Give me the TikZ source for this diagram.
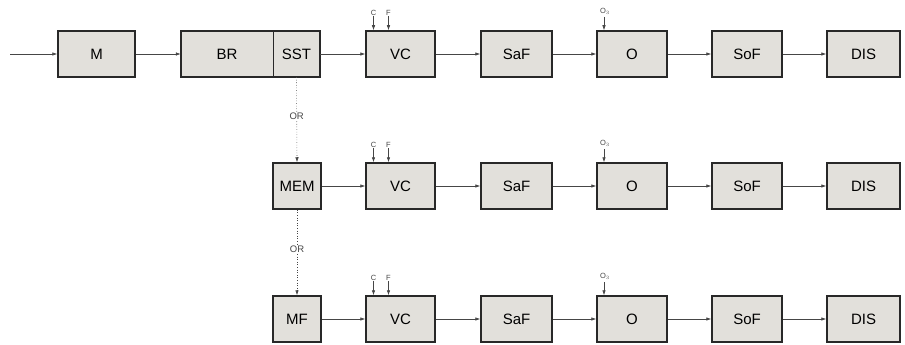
\documentclass[tikz,border=0pt]{standalone}
\usepackage{fontspec}
\setmainfont{Liberation Sans}
\usetikzlibrary{arrows.meta}
\definecolor{boxfill}{RGB}{226,224,219}
\definecolor{boxline}{RGB}{40,40,40}
\definecolor{conline}{RGB}{70,70,70}
\begin{document}
\begin{tikzpicture}[x=1pt,y=-1pt,
  blk/.style={draw=boxline,line width=1.5pt,fill=boxfill,minimum height=46pt,inner sep=0pt,font=\fontsize{15}{17}\selectfont},
  half/.style={fill=boxfill,minimum height=46pt,inner sep=0pt,font=\fontsize{15}{17}\selectfont},
  con/.style={draw=conline,line width=0.6pt,-{Latex[length=5pt,width=3.5pt]}},
  orcon/.style={draw=conline,line width=0.6pt,dotted,-{Latex[length=5pt,width=3.5pt]}},
  lab/.style={font=\fontsize{7.5}{8}\selectfont,text=conline,inner sep=0.5pt},
  orlab/.style={font=\fontsize{9.5}{10}\selectfont,text=conline,fill=white,inner sep=1pt}]
\useasboundingbox (0,0) rectangle (905,345);
% row 1
\coordinate (in) at (10,54);
\node[blk,minimum width=77pt] (M) at (96.5,54) {M};
\node[half,minimum width=92pt] (BR) at (227,54) {BR};
\node[half,minimum width=47pt] (SST) at (296.5,54) {SST};
\draw[boxline,line width=1.5pt] (BR.north west) rectangle (SST.south east);
\draw[boxline,line width=0.5pt] (BR.north east) -- (BR.south east);
\node[blk,minimum width=69pt] (VCa) at (400.5,54) {VC};
\node[blk,minimum width=71pt] (SaFa) at (516.5,54) {SaF};
\node[blk,minimum width=70pt] (Oa) at (632,54) {O};
\node[blk,minimum width=70pt] (SoFa) at (747,54) {SoF};
\node[blk,minimum width=73pt] (DISa) at (863.5,54) {DIS};
% row 2
\node[blk,minimum width=48pt] (MEM) at (297,186) {MEM};
\node[blk,minimum width=69pt] (VCb) at (400.5,186) {VC};
\node[blk,minimum width=71pt] (SaFb) at (516.5,186) {SaF};
\node[blk,minimum width=70pt] (Ob) at (632,186) {O};
\node[blk,minimum width=70pt] (SoFb) at (747,186) {SoF};
\node[blk,minimum width=73pt] (DISb) at (863.5,186) {DIS};
% row 3
\node[blk,minimum width=48pt] (MF) at (297,319) {MF};
\node[blk,minimum width=69pt] (VCc) at (400.5,319) {VC};
\node[blk,minimum width=71pt] (SaFc) at (516.5,319) {SaF};
\node[blk,minimum width=70pt] (Oc) at (632,319) {O};
\node[blk,minimum width=70pt] (SoFc) at (747,319) {SoF};
\node[blk,minimum width=73pt] (DISc) at (863.5,319) {DIS};
% connectors row 1
\draw[con] (in) -- (M.west);
\draw[con] (M.east) -- (BR.west);
\draw[con] (SST.east) -- (VCa.west);
\draw[con] (VCa.east) -- (SaFa.west);
\draw[con] (SaFa.east) -- (Oa.west);
\draw[con] (Oa.east) -- (SoFa.west);
\draw[con] (SoFa.east) -- (DISa.west);
% row 2
\draw[con] (MEM.east) -- (VCb.west);
\draw[con] (VCb.east) -- (SaFb.west);
\draw[con] (SaFb.east) -- (Ob.west);
\draw[con] (Ob.east) -- (SoFb.west);
\draw[con] (SoFb.east) -- (DISb.west);
% row 3
\draw[con] (MF.east) -- (VCc.west);
\draw[con] (VCc.east) -- (SaFc.west);
\draw[con] (SaFc.east) -- (Oc.west);
\draw[con] (Oc.east) -- (SoFc.west);
\draw[con] (SoFc.east) -- (DISc.west);
% OR connectors
\draw[orcon] (SST.south) -- node[orlab,pos=0.46] {OR} (MEM.north);
\draw[orcon] (MEM.south) -- node[orlab,pos=0.46] {OR} (MF.north);
% C F and O3 inputs
\foreach \r/\y in {a/0,b/132,c/265}{
  \node[lab] (C\r) at (373.5,{13+\y}) {C};
  \node[lab] (F\r) at (388.5,{13+\y}) {F};
  \draw[con] (C\r.south) -- (C\r.south |- VC\r.north);
  \draw[con] (F\r.south) -- (F\r.south |- VC\r.north);
  \node[lab] (O3\r) at (605,{11+\y}) {O$_3$};
  \coordinate (O3s\r) at (604,{17+\y});
  \draw[con] (O3s\r) -- (O3s\r |- O\r.north);
}
\end{tikzpicture}
\end{document}
